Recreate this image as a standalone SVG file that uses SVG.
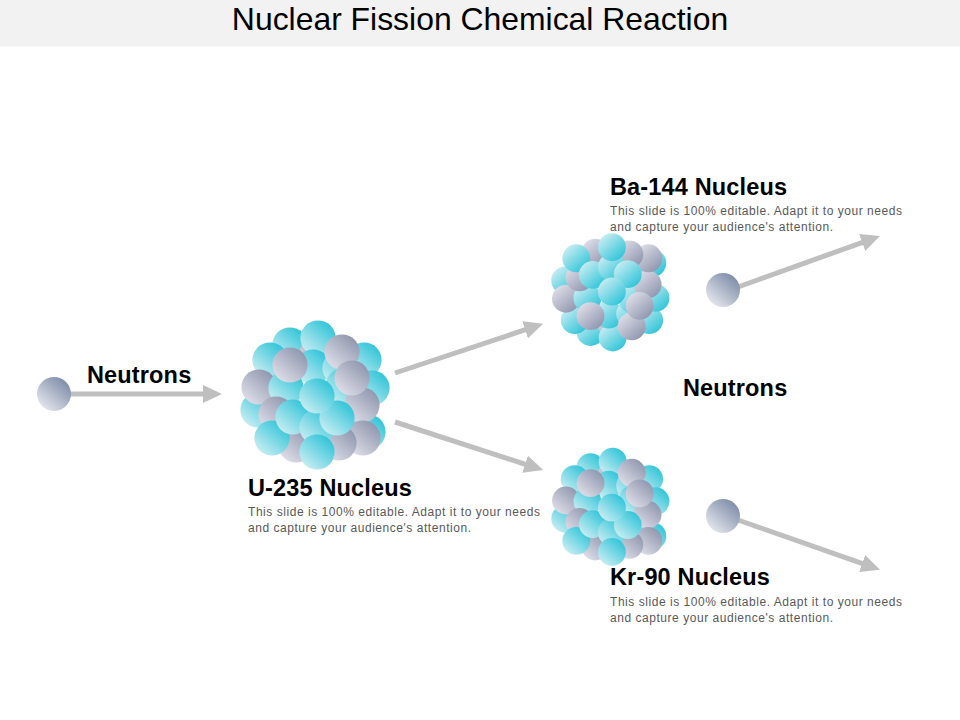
<svg xmlns="http://www.w3.org/2000/svg" xmlns:xlink="http://www.w3.org/1999/xlink" width="960" height="720" viewBox="0 0 960 720">
<style>
text{font-family:"Liberation Sans",Arial,sans-serif}
.t{fill:url(#teal)}
.g{fill:url(#grey)}
circle.t,circle.g{r:17.6px}
.h{font-size:23.5px;font-weight:bold;fill:#000;letter-spacing:.15px}
.d{font-size:12px;fill:#595959}
.c{stroke:#bfbfbf;stroke-width:5;fill:none;marker-end:url(#ah)}
</style>
<defs>
<linearGradient id="teal" x1="0.15" y1="0.9" x2="0.85" y2="0.1"><stop offset="0" stop-color="#c8edf2"/><stop offset="1" stop-color="#2fc4d8"/></linearGradient>
<linearGradient id="grey" x1="0.15" y1="0.9" x2="0.85" y2="0.1"><stop offset="0" stop-color="#dedee8"/><stop offset="1" stop-color="#8f96ae"/></linearGradient>
<linearGradient id="ball" x1="0.15" y1="0.9" x2="0.85" y2="0.1"><stop offset="0" stop-color="#e4e6ec"/><stop offset="1" stop-color="#7d8ca8"/></linearGradient>
<marker id="ah" markerUnits="userSpaceOnUse" markerWidth="20" markerHeight="18" refX="2" refY="9" orient="auto"><path d="M0 0L19 9L0 18Z" fill="#bfbfbf"/></marker>
<g id="cluster">
<circle class="t" cx="364" cy="360"/><circle class="t" cx="372" cy="388"/><circle class="t" cx="368" cy="432"/>
<circle class="t" cx="290" cy="345"/><circle class="g" cx="317" cy="354"/><circle class="t" cx="318" cy="338"/>
<circle class="t" cx="270" cy="360"/><circle class="t" cx="313" cy="367"/><circle class="t" cx="340" cy="368"/><circle class="g" cx="342" cy="352"/>
<circle class="t" cx="258" cy="410"/><circle class="g" cx="259" cy="387"/>
<circle class="t" cx="286" cy="388"/><circle class="t" cx="343" cy="386"/>
<circle class="g" cx="290" cy="365"/>
<circle class="g" cx="362" cy="405"/><circle class="g" cx="352" cy="378"/>
<circle class="g" cx="276" cy="414"/>
<circle class="g" cx="296" cy="445"/><circle class="t" cx="272" cy="438"/><circle class="g" cx="363" cy="438"/><circle class="g" cx="339" cy="443"/>
<circle class="t" cx="293" cy="417"/><circle class="t" cx="317" cy="427"/><circle class="t" cx="337" cy="418"/>
<circle class="t" cx="317" cy="396"/><circle class="t" cx="317" cy="452"/>
</g>
</defs>
<rect id="title-band" x="0" y="0" width="960" height="46.5" fill="#f2f2f2"/>
<text id="title" x="480" y="30" text-anchor="middle" font-size="31.9" fill="#000">Nuclear Fission Chemical Reaction</text>
<g id="connectors">
<line class="c" x1="70" y1="394" x2="205" y2="394"/>
<line class="c" x1="395" y1="373" x2="527" y2="329.2"/>
<line class="c" x1="395" y1="422" x2="527" y2="464.8"/>
<line class="c" x1="738" y1="287" x2="864" y2="241.8"/>
<line class="c" x1="738" y1="520" x2="864" y2="564.2"/>
</g>
<g id="neutron-in"><circle cx="54" cy="394" r="17" fill="url(#ball)"/><text class="h" x="87" y="383">Neutrons</text></g>
<g id="u235"><use href="#cluster"/><text class="h" x="248" y="496">U-235 Nucleus</text>
<text class="d" x="248" y="516" textLength="292">This slide is 100% editable. Adapt it to your needs</text><text class="d" x="248" y="532" textLength="223">and capture your audience's attention.</text></g>
<g id="ba144"><use href="#cluster" transform="translate(612.7 337.5) scale(0.792 -0.792) translate(-318 -338)"/><text class="h" x="610" y="195">Ba-144 Nucleus</text>
<text class="d" x="610" y="215" textLength="292">This slide is 100% editable. Adapt it to your needs</text><text class="d" x="610" y="231" textLength="223">and capture your audience's attention.</text></g>
<g id="kr90"><use href="#cluster" transform="translate(612.7 461.7) scale(0.792) translate(-318 -338)"/><text class="h" x="610" y="585">Kr-90 Nucleus</text>
<text class="d" x="610" y="606" textLength="292">This slide is 100% editable. Adapt it to your needs</text><text class="d" x="610" y="622" textLength="223">and capture your audience's attention.</text></g>
<g id="neutron-ba"><circle cx="723" cy="290" r="17" fill="url(#ball)"/></g>
<g id="neutron-kr"><circle cx="723" cy="516" r="17" fill="url(#ball)"/></g>
<text id="neutrons-label" class="h" x="683" y="396">Neutrons</text>
</svg>
